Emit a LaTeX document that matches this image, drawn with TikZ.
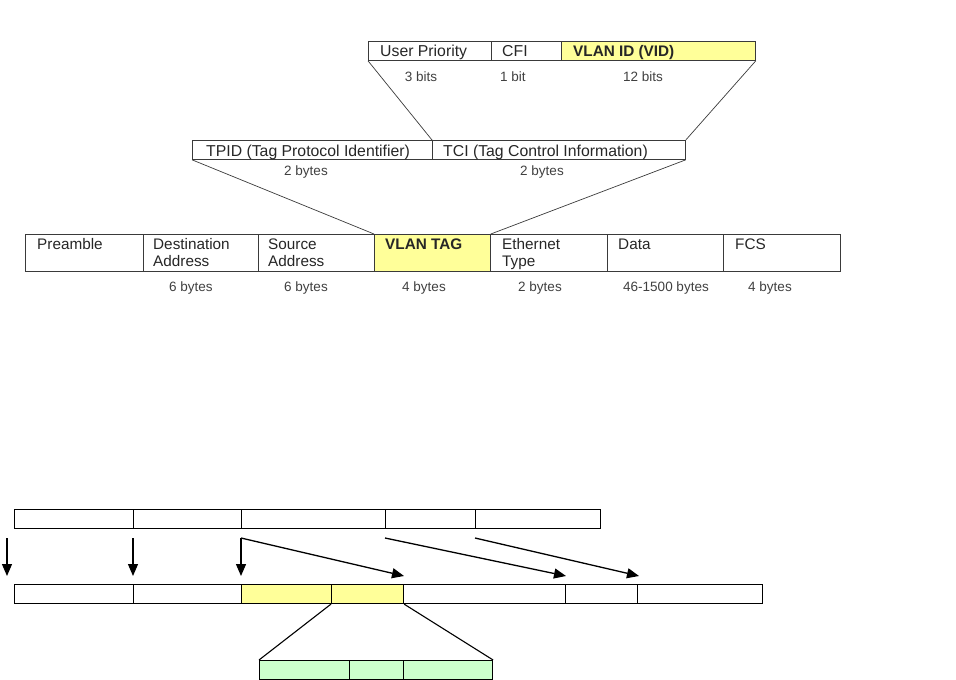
\documentclass[tikz,border=0pt]{standalone}
\usepackage{fontspec}
\setmainfont{Liberation Sans}
\usetikzlibrary{arrows.meta}
\definecolor{tagyellow}{HTML}{FFFF99}
\definecolor{tciGreen}{HTML}{CCFFCC}
\definecolor{lineGray}{HTML}{3A3A3A}
\begin{document}
\begin{tikzpicture}[x=1pt,y=-1pt,
  cellbox/.style={draw=lineGray,line width=0.8pt,rectangle,inner sep=0pt,anchor=north west},
  bcell/.style={draw=black,line width=1.1pt,rectangle,inner sep=0pt,anchor=north west,minimum height=19pt},
  fieldtext/.style={anchor=base west,inner sep=0pt,font=\fontsize{15.3}{17}\selectfont,text=black!85},
  toptext/.style={anchor=base west,inner sep=0pt,font=\fontsize{15.8}{17}\selectfont,text=black!85},
  sizetext/.style={anchor=base,inner sep=0pt,font=\fontsize{13.5}{15}\selectfont,text=black!75},
  zoomline/.style={draw=lineGray,line width=0.7pt},
  bline/.style={draw=black,line width=1.1pt},
  barrow/.style={draw=black,line width=1.3pt,-{Triangle[length=12pt,width=10pt]}}
]
\useasboundingbox (0,0) rectangle (956,680);

% ---------- top: TCI fields ----------
\node[cellbox,minimum width=123pt,minimum height=19pt] (up) at (368,41) {};
\node[cellbox,minimum width=70pt,minimum height=19pt] (cfi) at (491,41) {};
\node[cellbox,fill=tagyellow,minimum width=194pt,minimum height=19pt] (vid) at (561,41) {};
\node[toptext] (upT) at (380,56) {User Priority};
\node[toptext] (cfiT) at (502,56) {CFI};
\node[toptext,font=\fontsize{15.3}{17}\selectfont\bfseries] (vidT) at (573,56) {VLAN ID (VID)};
\node[sizetext] (upS) at (421,81) {3 bits};
\node[sizetext] (cfiS) at (513,81) {1 bit};
\node[sizetext] (vidS) at (643,81) {12 bits};

% ---------- middle: tag ----------
\node[cellbox,minimum width=240pt,minimum height=19pt] (tpid) at (192,140) {};
\node[cellbox,minimum width=253pt,minimum height=19pt] (tci) at (432,140) {};
\node[toptext] (tpidT) at (206,156) {TPID (Tag Protocol Identifier)};
\node[toptext] (tciT) at (443,156) {TCI (Tag Control Information)};
\node[sizetext] (tpidS) at (306,175) {2 bytes};
\node[sizetext] (tciS) at (542,175) {2 bytes};

\draw[zoomline] (up.south west) -- (tci.north west);
\draw[zoomline] (vid.south east) -- (tci.north east);

% ---------- frame ----------
\node[cellbox,minimum width=118pt,minimum height=37pt] (pre) at (25,234) {};
\node[cellbox,minimum width=115pt,minimum height=37pt] (dst) at (143,234) {};
\node[cellbox,minimum width=116pt,minimum height=37pt] (src) at (258,234) {};
\node[cellbox,fill=tagyellow,minimum width=116pt,minimum height=37pt] (vtag) at (374,234) {};
\node[cellbox,minimum width=117pt,minimum height=37pt] (etype) at (490,234) {};
\node[cellbox,minimum width=116pt,minimum height=37pt] (data) at (607,234) {};
\node[cellbox,minimum width=117pt,minimum height=37pt] (fcs) at (723,234) {};

\node[fieldtext] (preT) at (37,249) {Preamble};
\node[fieldtext] (dstT1) at (153,249) {Destination};
\node[fieldtext] (dstT2) at (153,266) {Address};
\node[fieldtext] (srcT1) at (268,249) {Source};
\node[fieldtext] (srcT2) at (268,266) {Address};
\node[fieldtext,font=\fontsize{15.3}{17}\selectfont\bfseries] (vtagT) at (385,249) {VLAN TAG};
\node[fieldtext] (etT1) at (502,249) {Ethernet};
\node[fieldtext] (etT2) at (502,266) {Type};
\node[fieldtext] (dataT) at (618,249) {Data};
\node[fieldtext] (fcsT) at (735,249) {FCS};

\node[sizetext] (dstS) at (191,291) {6 bytes};
\node[sizetext] (srcS) at (306,291) {6 bytes};
\node[sizetext] (vtagS) at (424,291) {4 bytes};
\node[sizetext] (etS) at (540,291) {2 bytes};
\node[sizetext] (dataS) at (666,291) {46-1500 bytes};
\node[sizetext] (fcsS) at (770,291) {4 bytes};

\draw[zoomline] (tpid.south west) -- (vtag.north west);
\draw[zoomline] (tci.south east) -- (vtag.north east);

% ---------- bottom: untagged -> tagged ----------
\node[bcell,minimum width=119pt] (a1) at (14,509) {};
\node[bcell,minimum width=108pt] (a2) at (133,509) {};
\node[bcell,minimum width=144pt] (a3) at (241,509) {};
\node[bcell,minimum width=90pt] (a4) at (385,509) {};
\node[bcell,minimum width=125pt] (a5) at (475,509) {};

\node[bcell,minimum width=119pt] (b1) at (14,584) {};
\node[bcell,minimum width=108pt] (b2) at (133,584) {};
\node[bcell,fill=tagyellow,minimum width=90pt] (b3) at (241,584) {};
\node[bcell,fill=tagyellow,minimum width=72pt] (b4) at (331,584) {};
\node[bcell,minimum width=162pt] (b5) at (403,584) {};
\node[bcell,minimum width=72pt] (b6) at (565,584) {};
\node[bcell,minimum width=125pt] (b7) at (637,584) {};

\node[bcell,fill=tciGreen,minimum width=90pt] (g1) at (259,660) {};
\node[bcell,fill=tciGreen,minimum width=54pt] (g2) at (349,660) {};
\node[bcell,fill=tciGreen,minimum width=89pt] (g3) at (403,660) {};

\coordinate (s1) at (7,538);   \coordinate (e1) at (7,576);
\coordinate (s2) at (133,538); \coordinate (e2) at (133,576);
\coordinate (s3) at (241,538); \coordinate (e3) at (241,576);
\coordinate (e3d) at (404,576);
\coordinate (s4) at (385,538); \coordinate (e4) at (566,576);
\coordinate (s5) at (475,538); \coordinate (e5) at (639,576);

\draw[barrow] (s1) -- (e1);
\draw[barrow] (s2) -- (e2);
\draw[barrow] (s3) -- (e3);
\draw[barrow] (s3) -- (e3d);
\draw[barrow] (s4) -- (e4);
\draw[barrow] (s5) -- (e5);

\draw[bline] (b4.south west) -- (g1.north west);
\draw[bline] (b4.south east) -- (g3.north east);
\end{tikzpicture}
\end{document}
